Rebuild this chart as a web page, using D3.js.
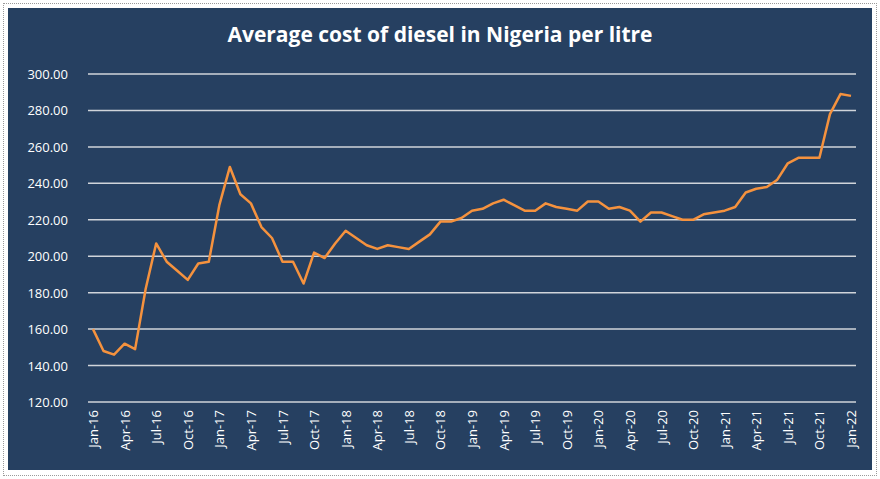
<html>
<head>
<script src="https://d3js.org/d3.v7.min.js"></script>
<style>
  body { margin: 0; background: #fff; font-family: "Open Sans", "Liberation Sans", sans-serif; }
  #frame { position: absolute; left: 3px; top: 3px; width: 872px; height: 471px; border: 1px dotted #9a9a9a; background: #fff; }
</style>
</head>
<body>
<div id="frame"></div>
<div id="chart"></div>
<script>
var months = ["Jan","Feb","Mar","Apr","May","Jun","Jul","Aug","Sep","Oct","Nov","Dec"];
var labels = [];
for (var y = 16; y <= 22; y++) {
  for (var m = 0; m < 12; m++) {
    if (y == 22 && m > 0) break;
    labels.push(months[m] + "-" + y);
  }
}
var prices = [160,148,146,152,149,182,207,197,192,187,196,197,
  228,249,234,229,216,210,197,197,185,202,199,207,
  214,210,206,204,206,205,204,208,212,219,219,221,
  225,226,229,231,228,225,225,229,227,226,225,230,
  230,226,227,225,219,224,224,222,220,220,223,224,
  225,227,235,237,238,242,251,254,254,254,278,289,
  288];
var yTicks = [120,140,160,180,200,220,240,260,280,300];

var w = 880, h = 479;
var svg = d3.select("#chart").append("svg")
  .attr("width", w).attr("height", h)
  .style("position", "absolute").style("left", 0).style("top", 0);

svg.append("rect").attr("x", 8).attr("y", 8).attr("width", 864).attr("height", 462).attr("fill", "#264061");

svg.append("text").attr("x", 440).attr("y", 42).attr("text-anchor", "middle")
  .attr("fill", "#fff").style("font-size", "21px").style("font-weight", "bold")
  .text("Average cost of diesel in Nigeria per litre");

var x = d3.scalePoint().domain(labels).range([93, 851]);
var yS = d3.scaleLinear().domain([120, 300]).range([402, 74]);

svg.selectAll(".grid").data(yTicks.slice(1)).enter().append("line")
  .attr("x1", 88).attr("x2", 856)
  .attr("y1", function(d){ return yS(d); }).attr("y2", function(d){ return yS(d); })
  .attr("stroke", "#d0d4da").attr("stroke-width", 1.5);
svg.append("line").attr("x1", 88).attr("x2", 856).attr("y1", yS(120)).attr("y2", yS(120))
  .attr("stroke", "#d0d4da").attr("stroke-width", 1.5);

svg.selectAll(".ylab").data(yTicks).enter().append("text")
  .attr("x", 68).attr("y", function(d){ return yS(d) + 5; })
  .attr("text-anchor", "end").attr("fill", "#fff").style("font-size", "13px")
  .text(function(d){ return d.toFixed(2); });

var xl = labels.filter(function(d, i){ return i % 3 == 0; });
svg.selectAll(".xlab").data(xl).enter().append("text")
  .attr("transform", function(d){ return "translate(" + (x(d) + 5) + ",410) rotate(-90)"; })
  .attr("text-anchor", "end").attr("fill", "#fff").style("font-size", "13px")
  .text(function(d){ return d; });

var line = d3.line().x(function(d, i){ return x(labels[i]); }).y(function(d){ return yS(d); });
svg.append("path").datum(prices).attr("d", line)
  .attr("fill", "none").attr("stroke", "#f5923e").attr("stroke-width", 2.5)
  .attr("stroke-linejoin", "round");
</script>
</body>
</html>
